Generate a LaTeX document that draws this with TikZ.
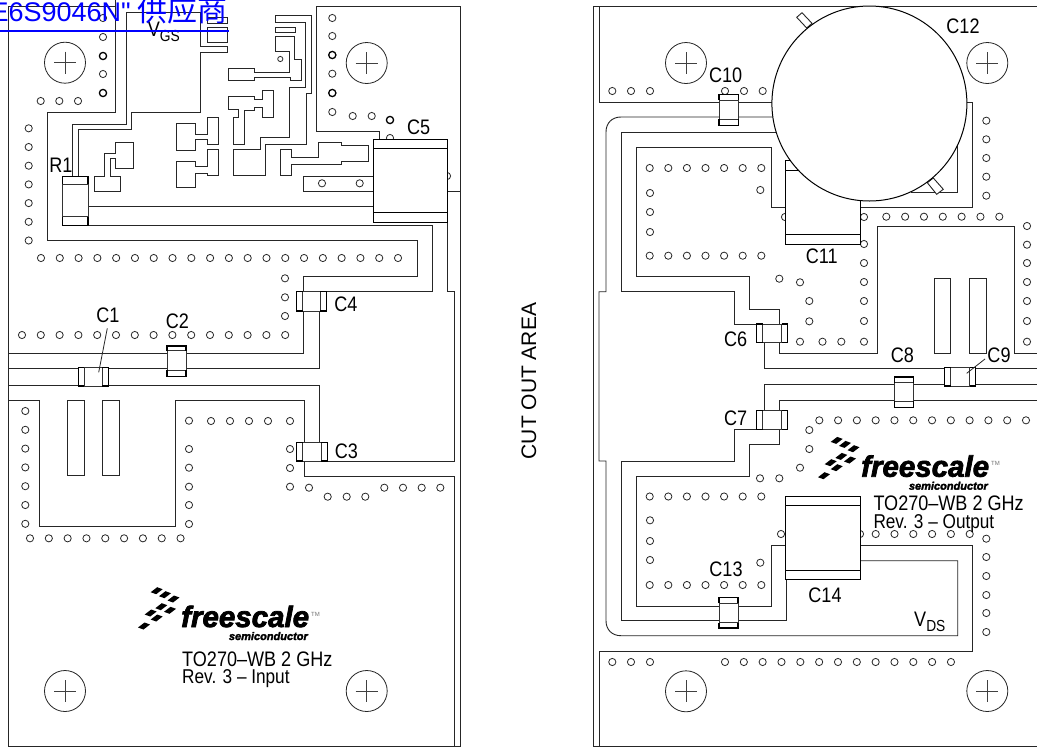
\documentclass[tikz,border=0pt]{standalone}
\usepackage{fontspec}
\setmainfont[FakeStretch=0.86]{Liberation Sans}
\newfontfamily\plainf{Liberation Sans}
\newfontfamily\frs[BoldItalicFeatures={FakeBold=2.5}]{Liberation Sans}
\newfontfamily\cjkf{Noto Sans CJK SC}
\newcommand{\lblsize}{\fontsize{21}{21}\selectfont}
\newcommand{\revsize}{\fontsize{20}{20}\selectfont}
\newcommand{\subsize}{\fontsize{16}{16}\selectfont}
\newcommand{\mycapV}[6]{% x1 y1 x2 y2 inner1 inner2 (body vertical)
  \draw[capthin] (#1,#2) rectangle (#3,#4);
  \draw[capthin] (#1,#5) -- (#3,#5) (#1,#6) -- (#3,#6);
  \draw[capthick] (#1,#5) -- (#1,#2) -- (#3,#2) -- (#3,#5);
  \draw[capthick] (#1,#6) -- (#1,#4) -- (#3,#4) -- (#3,#6);}
\newcommand{\mycapH}[6]{% x1 y1 x2 y2 inner1 inner2 (body horizontal)
  \draw[capthin] (#1,#2) rectangle (#3,#4);
  \draw[capthin] (#5,#2) -- (#5,#4) (#6,#2) -- (#6,#4);
  \draw[capthick] (#5,#2) -- (#1,#2) -- (#1,#4) -- (#5,#4);
  \draw[capthick] (#6,#2) -- (#3,#2) -- (#3,#4) -- (#6,#4);}
\newcommand{\myhole}[2]{%
  \draw[thinline] (#1,#2) circle (20.5);
  \draw[crossline] (#1-11,#2) -- (#1+11,#2) (#1,#2-11) -- (#1,#2+11);}
\newcommand{\fslogo}[2]{%
  \begin{scope}[shift={(#1,#2)}]
    \foreach \mx/\my in {156.7/590.7,165/594.7,173.5/599,161.3/606.7,170/610.3,150.7/613,156.7/618,144/626}
      \fill[black] (\mx-6,\my+1.5) -- (\mx+0.5,\my-3.5) -- (\mx+6,\my-1.5) -- (\mx-0.5,\my+3.5) -- cycle;
    \node[anchor=base west,inner sep=0pt] at (181,627) {\frs\bfseries\itshape\fontsize{29.5}{29.5}\selectfont freescale};
    \node[anchor=base east,inner sep=0pt] at (308,640) {\frs\bfseries\itshape\fontsize{11}{11}\selectfont semiconductor};
    \node[anchor=base west,inner sep=0pt,text=black!55] at (311,616) {\plainf\fontsize{6}{6}\selectfont TM};
  \end{scope}}
\tikzset{
  trace/.style={draw=black!85,line width=0.9pt,line join=miter},
  thinline/.style={draw=black!85,line width=0.8pt},
  crossline/.style={draw=black!75,line width=0.7pt},
  padshape/.style={draw=black!85,line width=0.9pt,fill=white},
  capthin/.style={draw=black!80,line width=0.8pt,fill=white},
  capthick/.style={draw=black,line width=1.5pt},
  bigcap/.style={draw=black,line width=0.9pt,fill=white},
  viaS/.style={draw=black!85,line width=0.8pt,fill=white},
  viaB/.style={draw=black,line width=1.3pt,fill=white},
  lbl/.style={inner sep=0pt,font=\lblsize},
  brd/.style={inner sep=0pt,anchor=base west,font=\lblsize},
  brdr/.style={inner sep=0pt,anchor=base west,font=\revsize}
}
\begin{document}
\begin{tikzpicture}[x=1pt,y=-1pt]
\useasboundingbox (0,0) rectangle (1037,748);
\clip (0,0) rectangle (1037,748);
\fill[white] (0,0) rectangle (1037,748);
% ================= LEFT BOARD ==================
\draw[trace] (115,6) -- (8.5,6) -- (8.5,746.5) -- (460,746.5) -- (460,6) -- (316.7,6) -- (316.7,131) -- (379.3,131) -- (379.3,139);
\draw[trace] (115,0) -- (115,112) -- (47,112) -- (47,240) -- (417.7,240) -- (417.7,276.7) -- (303.3,276.7) -- (303.3,353.3) -- (8.5,353.3);
\draw[trace] (8.5,368.3) -- (319,368.3) -- (319,311);
\draw[trace] (8.5,385) -- (319,385) -- (319,442.7);
\draw[trace] (8.5,400) -- (39.3,400) -- (39.3,526.7) -- (175.7,526.7) -- (175.7,400) -- (304,400) -- (304,442.7);
\draw[trace] (304,461) -- (304,476.7) -- (454.3,476.7) -- (454.3,746.5);
\draw[trace] (296.7,461) -- (454.3,461) -- (454.3,291.7) -- (447.5,291.7) -- (447.5,222);
\draw[trace] (326.7,291.7) -- (432,291.7) -- (432,225) -- (87,225);
\draw[trace] (87,206) -- (373.3,206);
\draw[trace] (447.5,191) -- (460,191);
% VGS traces
\draw[trace] (72.3,176.7) -- (72.3,124) -- (126,124) -- (126,12.7) -- (200.7,12.7) -- (200.7,46.7) -- (227.7,46.7) -- (227.7,52) -- (200.7,52) -- (200.7,112.3) -- (131.3,112.3) -- (131.3,129.3) -- (78,129.3) -- (78,176.7);
\draw[padshape] (207.3,27) rectangle (227.7,42.3);
\draw[padshape] (207.3,17.3) rectangle (227.7,23);
% pads
\draw[padshape] (115,142.7) -- (133.7,142.7) -- (133.7,168.7) -- (115,168.7) -- (115,158.3) -- (110,158.3) -- (110,176.3) -- (120.3,176.3) -- (120.3,191) -- (94.3,191) -- (94.3,176.3) -- (104.7,176.3) -- (104.7,153) -- (115,153) -- cycle;
\draw[padshape] (176.7,123.7) -- (195.7,123.7) -- (195.7,134) -- (207,134) -- (207,117.7) -- (218.3,117.7) -- (218.3,144) -- (207,144) -- (207,139.3) -- (195.7,139.3) -- (195.7,150) -- (176.7,150) -- cycle;
\draw[padshape] (176.7,161.3) -- (195.7,161.3) -- (195.7,166.3) -- (207,166.3) -- (207,149.7) -- (218.3,149.7) -- (218.3,175.7) -- (207,175.7) -- (207,173.3) -- (195.7,173.3) -- (195.7,187.3) -- (176.7,187.3) -- cycle;
\draw[padshape] (228.7,68.7) -- (254.7,68.7) -- (254.7,72.3) -- (289.3,72.3) -- (289.3,51.7) -- (275,51.7) -- (275,36.7) -- (294,36.7) -- (294,59) -- (301.3,59) -- (301.3,80.7) -- (290,80.7) -- (290,77.3) -- (254.7,77.3) -- (254.7,80.7) -- (228.7,80.7) -- cycle;
\draw[viaS] (280.3,59) circle (2.6);
\draw[padshape] (228.7,96.7) -- (254.7,96.7) -- (254.7,99.7) -- (262.7,99.7) -- (262.7,90.7) -- (273.3,90.7) -- (273.3,117.3) -- (262.7,117.3) -- (262.7,107.3) -- (254.7,107.3) -- (254.7,110.3) -- (244.7,110.3) -- (244.7,144) -- (233.3,144) -- (233.3,117.3) -- (238.7,117.3) -- (238.7,109.7) -- (228.7,109.7) -- cycle;
\draw[padshape] (275,15) -- (311,15) -- (311,93.3) -- (306.3,93.3) -- (306.3,144) -- (265.3,144) -- (265.3,175.7) -- (233.3,175.7) -- (233.3,149.7) -- (260,149.7) -- (260,137.7) -- (289.3,137.7) -- (289.3,87.3) -- (305,87.3) -- (305,22.7) -- (275,22.7) -- cycle;
\draw[padshape] (275,27.3) rectangle (295,32.3);
\draw[padshape] (280.3,149.3) -- (291.7,149.3) -- (291.7,157.3) -- (318.7,157.3) -- (318.7,142.7) -- (341.7,142.7) -- (341.7,145.7) -- (368,145.7) -- (368,161.7) -- (341.7,161.7) -- (341.7,164.7) -- (291.7,164.7) -- (291.7,175.7) -- (280.3,175.7) -- cycle;
\draw[padshape] (303.3,176.3) rectangle (373.3,191);
\draw[padshape] (67.3,400) rectangle (84,475);
\draw[padshape] (102.7,400) rectangle (119.3,475);
% vias left board
\foreach \y in {18,37,74} \draw[viaS] (103,\y) circle (3.6);
\foreach \y in {56,93} \draw[viaB] (103,\y) circle (3.6);
\foreach \x in {40.7,59.3,78} \draw[viaS] (\x,101) circle (3.6);
\foreach \k in {0,...,6} \draw[viaS] (28.7,{128.3+18.7*\k}) circle (3.6);
\foreach \k in {0,...,19} \draw[viaS] ({41+18.79*\k},258) circle (3.6);
\foreach \y in {18,36,73.7,112} \draw[viaS] (332.3,\y) circle (3.6);
\foreach \y in {55,93} \draw[viaB] (332.3,\y) circle (3.6);
\foreach \x in {352.7,371.7} \draw[viaS] (\x,116) circle (3.6);
\draw[viaB] (390,120) circle (3.6);
\draw[viaS] (390,138) circle (3.6);
\draw[viaS] (447,176) circle (3.6);
\foreach \x in {322,359.7} \draw[viaS] (\x,183.3) circle (3.6);
\foreach \k in {0,...,14} \draw[viaS] ({22+18.8*\k},335) circle (3.6);
\foreach \y in {278.3,297.3,316} \draw[viaS] (285,\y) circle (3.6);
\foreach \k in {0,...,6} \draw[viaS] (25.3,{411+18.8*\k}) circle (3.6);
\foreach \k in {0,...,8} \draw[viaS] ({30+18.82*\k},538.3) circle (3.6);
\foreach \y in {420.7,449,467.7,486.7,505,524} \draw[viaS] (189,\y) circle (3.6);
\foreach \x in {211,230,249,268,290} \draw[viaS] (\x,421) circle (3.6);
\foreach \y in {449,468,486.7} \draw[viaS] (290,\y) circle (3.6);
\foreach \x/\y in {309/487.7,327.7/496.7,346.7/496.7,365.3/496.7,384.3/487.7,403/487.7,421.7/487.7,440.3/487.7} \draw[viaS] (\x,\y) circle (3.6);
% components left board
\draw[bigcap] (373.3,139.3) rectangle (447.7,222.3);
\draw[bigcap] (373.3,148.3) -- (447.7,148.3) (373.3,212.7) -- (447.7,212.7);
\mycapV{62.3}{176.7}{88}{225.3}{184.3}{216.7}
\mycapH{78.3}{367.3}{108.7}{386}{84.3}{102.3}
\mycapV{167}{346}{186}{376.3}{350.7}{370.3}
\mycapH{296.7}{291.7}{326.7}{311}{302.7}{320.3}
\mycapH{296.7}{442.7}{327.3}{461}{302.7}{321}
\draw[thinline] (107.3,328.3) -- (98.7,372.3);
\myhole{65}{62.7}
\myhole{366.7}{63}
\myhole{65}{691}
\myhole{366.7}{691}
\node[lbl] (r1) at (61,165) {R1};
\node[lbl] (c1) at (108,315.3) {C1};
\node[lbl] (c2) at (177.3,321) {C2};
\node[lbl] (c3) at (346.3,451) {C3};
\node[lbl] (c4) at (346,304.7) {C4};
\node[lbl] (c5) at (418.7,127) {C5};
\node[brd] (vgs) at (147.7,36.7) {V\raisebox{-5pt}{\subsize GS}};
\fslogo{0}{0}
\node[brd] (t1) at (182,666.7) {TO270–WB 2 GHz};
\node[brdr] (t2) at (182,683.5) {Rev. 3 – Input};
% cut out
\node[inner sep=0pt,rotate=90] (cut) at (529,381) {\plainf\fontsize{21}{21}\selectfont CUT OUT AREA};
% ================= RIGHT BOARD ==================
\draw[trace] (1037,6) -- (593.3,6) -- (593.3,746.5) -- (1037,746.5);
\draw[trace] (599,6) -- (599,102) -- (775,102);
\draw[trace] (599,746.5) -- (599,651.2) -- (972.7,651.2) -- (972.7,545.7) -- (860,545.7);
\draw[trace] (775,117) -- (621,117) .. controls (612,117) and (606,123) .. (606,132) -- (606,291.7) -- (599,291.7) -- (599,461) -- (606,461) -- (606,620.7) .. controls (606,629.7) and (612,635.7) .. (621,635.7) -- (957.7,635.7) -- (957.7,560.7) -- (860,560.7);
\draw[trace] (776,132.3) -- (621,132.3) -- (621,291.7) -- (734.3,291.7) -- (734.3,324) -- (757,324);
\draw[trace] (785.7,207.5) -- (771.7,207.5) -- (771.7,147) -- (636.3,147) -- (636.3,276.7) -- (749.3,276.7) -- (749.3,309) -- (779.3,309) -- (779.3,324);
\draw[trace] (779.3,342.7) -- (779.3,353.3) -- (877.7,353.3) -- (877.7,226) -- (1014.3,226) -- (1014.3,353.3) -- (1037,353.3);
\draw[trace] (764,342.7) -- (764,368.3) -- (1037,368.3);
\draw[trace] (764,410.3) -- (764,384.7) -- (1037,384.7);
\draw[trace] (779.3,410.3) -- (779.3,400) -- (1037,400);
\draw[trace] (757,429.3) -- (734.3,429.3) -- (734.3,461) -- (621,461) -- (621,620.7) -- (786.7,620.7) -- (786.7,579);
\draw[trace] (779.3,429.3) -- (779.3,444) -- (749.3,444) -- (749.3,476.3) -- (636.3,476.3) -- (636.3,606) -- (771.7,606) -- (771.7,545.7) -- (785.7,545.7);
\draw[trace] (860,207.3) -- (972.7,207.3) -- (972.7,102) -- (960,102);
\draw[trace] (910.7,192.3) -- (957.7,192.3) -- (957.7,130);
\draw[padshape] (934,278.3) rectangle (950.7,353.3);
\draw[padshape] (969.3,278.3) rectangle (986,353.3);
% vias right board
\foreach \x in {612.3,631,650} \draw[viaS] (\x,91) circle (3.6);
\foreach \x in {725,744,762.7} \draw[viaS] (\x,91) circle (3.6);
\foreach \k in {0,...,6} {
  \draw[viaS] ({649.7+18.6*\k},168) circle (3.6);
  \draw[viaS] ({649.7+18.6*\k},255.7) circle (3.6);
  \draw[viaS] ({649.7+18.6*\k},496.5) circle (3.6);
  \draw[viaS] ({649.7+18.6*\k},585) circle (3.6);}
\draw[viaS] (760.3,190) circle (3.6);
\foreach \y in {193,212,232,520.3,541,560} \draw[viaS] (650,\y) circle (3.6);
\foreach \x/\y in {779.3/278.7,800/282.3,809.3/301,809.3/321.3,800/341.7,822.5/341.7,841.3/341.7,785/217,760/478.3,779.3/478.3,760.3/562.7,781/534} \draw[viaS] (\x,\y) circle (3.6);
\foreach \y in {217,244,263,282,301,321,341.7} \draw[viaS] (864,\y) circle (3.6);
\foreach \k in {0,...,6} \draw[viaS] ({886.3+18.83*\k},216.7) circle (3.6);
\foreach \y in {226,244.7,263,282,301,321,341.7} \draw[viaS] (1027,\y) circle (3.6);
\foreach \y in {120.7,139.3,158,176.7,195.7} \draw[viaS] (986.3,\y) circle (3.6);
\foreach \k in {0,...,11} \draw[viaS] ({819.3+18.79*\k},420.3) circle (3.6);
\foreach \x/\y in {809.3/430,809.3/449,800/467.7} \draw[viaS] (\x,\y) circle (3.6);
\foreach \k in {0,...,12} \draw[viaS] ({725+18.83*\k},662) circle (3.6);
\foreach \x in {612.3,631,650} \draw[viaS] (\x,662) circle (3.6);
\foreach \k in {0,...,5} \draw[viaS] ({875.7+18.8*\k},534) circle (3.6);
\draw[viaS] (860,534) circle (3.6);
\foreach \y in {538.7,557,576,595,613,632} \draw[viaS] (986.3,\y) circle (3.6);
% components right board
\draw[bigcap] (785.7,160.7) rectangle (860,244);
\draw[bigcap] (785.7,170) -- (860,170) (785.7,234.7) -- (860,234.7);
\draw[bigcap] (785.7,496) rectangle (860,579);
\draw[bigcap] (785.7,505.3) -- (860,505.3) (785.7,570) -- (860,570);
\mycapV{719}{94.7}{738.3}{125.3}{100}{119.3}
\mycapV{719}{597.3}{738}{628}{603}{622.7}
\mycapV{894.7}{377}{913.7}{407.3}{382.7}{401.3}
\mycapH{756.7}{324}{787.3}{342.7}{762.7}{781.7}
\mycapH{756.7}{410.3}{787.3}{429.3}{762.7}{781.7}
\mycapH{944.7}{367.3}{975.7}{386}{950.7}{969.7}
\draw[thinline] (985,359) -- (966.7,373.3);
% C12
\draw[padshape] (796.7,17.3) -- (802,12.7) -- (812,23.3) -- (806.7,28) -- cycle;
\draw[padshape] (927.3,182.7) -- (933.3,178) -- (943.3,189.3) -- (936.7,194.3) -- cycle;
\draw[draw=black,line width=1pt,fill=white] (869.4,103.5) circle (97.5);
\myhole{686}{63}
\myhole{987.3}{63}
\myhole{686}{691.3}
\myhole{987.3}{691}
\node[lbl] (c10) at (725.7,75) {C10};
\node[lbl] (c12) at (963,26) {C12};
\node[lbl] (c11) at (821.7,256.5) {C11};
\node[lbl] (c6) at (735.7,339) {C6};
\node[lbl] (c7) at (735.7,418) {C7};
\node[lbl] (c8) at (902.3,355.7) {C8};
\node[lbl] (c9) at (999,355.7) {C9};
\node[lbl] (c13) at (726,569) {C13};
\node[lbl] (c14) at (825,595) {C14};
\node[brd] (vds) at (914,626.7) {V\raisebox{-5pt}{\subsize DS}};
\fslogo{680}{-150.3}
\node[brd] (t3) at (873.3,510) {TO270–WB 2 GHz};
\node[brdr] (t4) at (873.3,528.3) {Rev. 3 – Output};
% link text
\node[anchor=base east,inner sep=0pt,text={rgb,255:red,0;green,0;blue,255}] (lnk) at (131,21) {\plainf\fontsize{27}{27}\selectfont E6S9046N"};
\node[anchor=base east,inner sep=0pt,text={rgb,255:red,0;green,0;blue,255}] (lnkz) at (228,21) {\cjkf\fontsize{30}{30}\selectfont 供应商};
\draw[draw={rgb,255:red,0;green,0;blue,255},line width=1.7pt] (0,30.7) -- (228.5,30.7);
\end{tikzpicture}
\end{document}
